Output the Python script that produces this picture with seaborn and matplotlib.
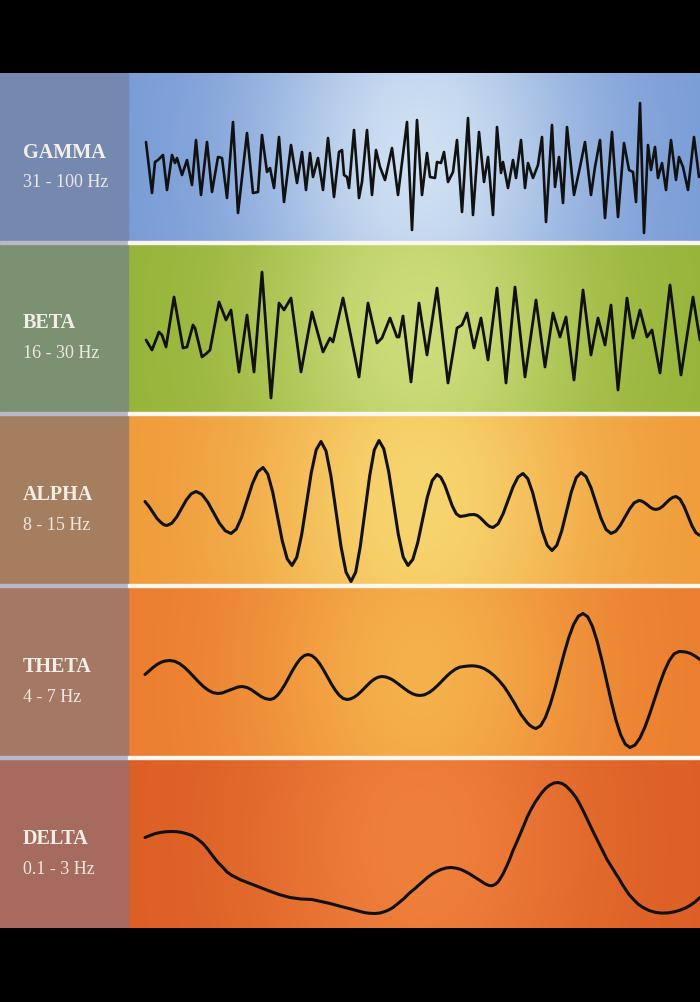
import numpy as np
import pandas as pd
import matplotlib
matplotlib.use("Agg")
import matplotlib.pyplot as plt
from matplotlib.patches import Rectangle
from matplotlib.colors import to_rgb
import seaborn as sns

sns.set_theme(style="white")
plt.rcParams["font.family"] = ["Liberation Serif", "DejaVu Serif"]

# ---------------- data ----------------
band_names = ["GAMMA", "BETA", "ALPHA", "THETA", "DELTA"]
band_ranges = ["31 - 100 Hz", "16 - 30 Hz", "8 - 15 Hz", "4 - 7 Hz", "0.1 - 3 Hz"]

gamma_t = [146, 152, 155, 158, 163, 167, 172, 175, 177, 182,
           187, 192, 196, 201, 207, 212, 218, 222, 227, 233,
           238, 247, 253, 258, 262, 267, 270, 274, 279, 284,
           291, 297, 302, 306, 310, 313, 318, 323, 328, 334,
           339, 342, 344, 347, 349, 354, 359, 362, 367, 372,
           376, 380, 385, 392, 398, 407, 412, 417, 422, 427,
           430, 435, 437, 441, 444, 448, 453, 457, 462, 468,
           473, 479, 484, 488, 493, 497, 501, 503, 508, 513,
           516, 521, 525, 528, 533, 538, 542, 546, 552, 555,
           559, 563, 567, 574, 580, 585, 591, 595, 600, 605,
           612, 618, 624, 629, 633, 636, 640, 644, 648, 651,
           655, 658, 662, 666, 671, 676, 679, 683, 688, 694,
           699]
gamma_v = [15, -36, -5, -3, 2, -33, 2, -6, -1, -18,
           -3, -28, 17, -38, 15, -35, 0, -1, -41, 35,
           -56, 24, -36, -35, 22, -15, -11, -31, 20, -45,
           12, -26, 5, -33, 4, -20, -1, -33, 19, -40,
           5, 7, -18, -20, -31, 27, -41, -25, 27, -38,
           7, -10, -23, 9, -38, 35, -73, 37, -38, 4,
           -20, -21, -5, -6, 5, -25, -15, 17, -55, 39,
           -58, 25, -25, 0, -58, 30, -16, -5, -31, -3,
           -21, 17, -31, -6, -21, -8, 20, -65, 32, -30,
           0, -46, 30, -38, -10, 15, -38, -10, 17, -61,
           25, -60, 14, -13, -15, -45, 54, -76, 12, -13,
           10, -21, -6, -33, 17, -23, 0, -10, -33, 20,
           -20]

beta_t = [146, 152, 159, 162, 166, 174, 183, 187, 193, 195,
          202, 207, 210, 219, 226, 231, 239, 247, 254, 262,
          271, 279, 284, 291, 301, 312, 323, 330, 333, 343,
          351, 359, 368, 377, 382, 390, 397, 399, 403, 411,
          419, 427, 437, 448, 457, 462, 467, 474, 481, 488,
          497, 506, 515, 525, 536, 545, 553, 560, 566, 574,
          583, 591, 598, 605, 611, 618, 627, 633, 640, 647,
          652, 660, 670, 681, 693, 700]
beta_v = [-12, -22, -4, -7, -19, 31, -20, -19, 3, 0,
          -29, -25, -22, 26, 8, 18, -44, 13, -44, 56,
          -70, 25, 18, 30, -44, 16, -24, -10, -14, 30,
          -9, -49, 25, -15, -10, 10, -9, -9, 12, -54,
          25, -27, 40, -55, 0, 3, 15, -20, 10, -32,
          40, -55, 41, -49, 28, -39, 15, -9, 11, -52,
          38, -27, 10, -17, 23, -62, 30, -10, 18, -9,
          -2, -45, 43, -47, 31, -12]

alpha_t = [145, 149, 153, 157, 161, 164, 167,
           171.8, 176.7, 181.5, 186.3, 191.2, 196,
           201.8, 207.7, 213.5, 219.3, 225.2, 231,
           236.3, 241.7, 247, 252.3, 257.7, 263,
           267.8, 272.7, 277.5, 282.3, 287.2, 292,
           296.8, 301.7, 306.5, 311.3, 316.2, 321,
           326, 331, 336, 341, 346, 351,
           355.7, 360.3, 365, 369.7, 374.3, 379,
           383.8, 388.7, 393.5, 398.3, 403.2, 408,
           412.8, 417.7, 422.5, 427.3, 432.2, 437,
           440.8, 444.7, 448.5, 452.3, 456.2, 460,
           465, 469, 474,
           477.2, 480.3, 483.5, 486.7, 489.8, 493,
           498, 503, 508, 513, 518, 523,
           527.8, 532.7, 537.5, 542.3, 547.2, 552,
           556.8, 561.7, 566.5, 571.3, 576.2, 581,
           586, 591, 596, 601, 606, 611,
           615.7, 620.3, 625, 629.7, 634.3, 639,
           641.8, 644.7, 647.5, 650.3, 653.2, 656,
           659.3, 662.7, 666, 669.3, 672.7, 676,
           680, 684, 688, 692, 696, 700]
alpha_v = [-2, -7, -13, -19, -23, -25.3, -26,
           -23.7, -17.5, -9, -0.5, 5.7, 8,
           5.2, -2.5, -13, -23.5, -31.2, -34,
           -29.6, -17.5, -1, 15.5, 27.6, 32,
           25.4, 7.5, -17, -41.5, -59.4, -66,
           -57.7, -35, -4, 27, 49.7, 58,
           48.6, 23, -12, -47, -72.6, -82,
           -72.6, -46.8, -11.5, 23.8, 49.6, 59,
           50.6, 27.8, -3.5, -34.8, -57.6, -66,
           -59.9, -43.3, -20.5, 2.3, 18.9, 25,
           22.2, 14.5, 4, -6.5, -14.2, -17,
           -16.3, -15.3, -15,
           -15.9, -18.3, -21.5, -24.8, -27.1, -28,
           -24.4, -14.5, -1, 12.5, 22.4, 26,
           20.8, 6.8, -12.5, -31.8, -45.8, -51,
           -45.8, -31.5, -12, 7.5, 21.8, 27,
           22.9, 11.8, -3.5, -18.8, -29.9, -34,
           -31.8, -25.8, -17.5, -9.3, -3.2, -1,
           -1.6, -3.3, -5.5, -7.8, -9.4, -10,
           -9.1, -6.8, -3.5, -0.3, 2.1, 3,
           0.4, -6.8, -16.5, -26.3, -33.4, -36]

theta_t = [145, 149, 153, 157, 161, 165, 170,
           174.8, 179.6, 184.4, 189.2, 194, 198.8, 203.6, 208.4, 213.2, 218,
           222, 226, 230, 234, 238, 242,
           247, 251, 256, 261, 265, 270,
           273.8, 277.6, 281.4, 285.2, 289, 292.8, 296.6, 300.4, 304.2, 308,
           311.9, 315.8, 319.7, 323.6, 327.5, 331.4, 335.3, 339.2, 343.1, 347,
           350.5, 354, 357.5, 361, 364.5, 368, 371.5, 375, 378.5, 382,
           385.8, 389.6, 393.4, 397.2, 401, 404.8, 408.6, 412.4, 416.2, 420,
           424.4, 428.8, 433.2, 437.6, 442, 446.4, 450.8, 455.2, 459.6, 464,
           468, 472, 476, 480, 484, 489, 494, 499, 504, 508,
           511, 515, 518, 521, 524, 527, 530, 533, 536,
           540.7, 545.4, 550.1, 554.8, 559.5, 564.2, 568.9, 573.6, 578.3, 583,
           587.7, 592.4, 597.1, 601.8, 606.5, 611.2, 615.9, 620.6, 625.3, 630,
           634.9, 639.8, 644.7, 649.6, 654.5, 659.4, 664.3, 669.2, 674.1, 679,
           683, 687, 691, 695, 700]
theta_v = [-3, 0.5, 4, 7, 9.2, 10.5, 11,
           10.2, 7.9, 4.2, -0.4, -5.5, -10.6, -15.2, -18.8, -21.2, -22,
           -21.5, -20, -18.5, -17, -15.5, -15,
           -16, -18, -21.5, -25, -27, -28,
           -26.9, -23.7, -18.7, -12.5, -5.5, 1.5, 7.7, 12.7, 15.9, 17,
           15.9, 12.7, 7.7, 1.5, -5.5, -12.5, -18.7, -23.7, -26.9, -28,
           -27.4, -25.8, -23.3, -20.1, -16.5, -13, -9.7, -7.2, -5.6, -5,
           -5.5, -6.8, -8.9, -11.6, -14.5, -17.4, -20.1, -22.2, -23.5, -24,
           -23.3, -21.2, -18, -14, -9.5, -5, -1, 2.2, 4.3, 5,
           5.5, 5.7, 5.4, 4.5, 3, 0, -4, -9, -15, -21,
           -26, -32.5, -38, -43, -47, -51, -54, -56, -57,
           -54.2, -46, -33.3, -17.3, 0.5, 18.3, 34.3, 47, 55.2, 58,
           54.7, 45.2, 30.4, 11.7, -9, -29.7, -48.4, -63.2, -72.7, -76,
           -73.6, -66.8, -56.2, -42.8, -28, -13.2, 0.2, 10.8, 17.7, 20,
           19.8, 19.2, 17.8, 15.5, 12]

delta_t = [145, 150, 155, 160, 166, 172, 177, 182, 187, 192,
           197, 203, 208, 214, 218, 223, 227, 232, 241, 250,
           259, 268, 279, 290, 301, 312, 321, 330, 341, 353,
           360, 365, 370, 375, 380, 385, 389, 393, 398, 404,
           409, 415, 420, 424, 428, 433, 437, 441, 446, 451,
           456, 461, 465, 469, 475, 480, 485, 489, 492, 495,
           498, 500, 503, 507, 510, 513, 517, 520, 524, 527,
           531, 535, 538, 542, 546, 550, 554, 558, 562, 566,
           571, 576, 580, 585, 589, 594, 598, 603, 607, 612,
           616, 619, 622, 625, 629, 634, 638, 643, 649, 656,
           662, 668, 674, 679, 685, 690, 695, 700]
delta_v = [6, 8, 9.8, 11, 11.8, 12, 11.8, 11, 9.7, 8,
           4.8, 0, -6, -14, -19, -24, -28.5, -32, -36.5, -40,
           -43.5, -47, -51, -54, -55.5, -56, -58, -60, -63, -66,
           -68, -69.2, -69.8, -70, -69.5, -68, -66.3, -64, -60, -55,
           -50, -45, -40.5, -37, -33.5, -30, -27.8, -26, -24.5, -24,
           -24.6, -26, -27.9, -30, -33.8, -37, -40.3, -42, -42.2, -41,
           -38.5, -35.5, -30.5, -22, -15, -7, 2, 9, 18.5, 26,
           34, 41, 45.5, 51, 55.5, 58.5, 60.5, 61, 60, 57.5,
           52.5, 46, 39, 29, 20.5, 10, 2, -8, -16, -24,
           -30.5, -35, -40.5, -45, -51, -56.5, -60.5, -64, -67, -69,
           -69.6, -69.4, -68.4, -67, -64.7, -62, -58.5, -54]

series = [(gamma_t, gamma_v), (beta_t, beta_v), (alpha_t, alpha_v),
          (theta_t, theta_v), (delta_t, delta_v)]

# ---------------- style ----------------
label_colors = ["#7588AF", "#7B9172", "#A57E5F", "#A57865", "#A66B5E"]
edge_colors = ["#789BD6", "#95B338", "#F09A3A", "#EB7C2F", "#DC5E25"]
center_colors = ["#CFE0F2", "#CCDC7A", "#F7D56E", "#F5B14B", "#EF803C"]
line_widths = [1.9, 2.0, 2.2, 2.2, 2.2]

W, H = 700, 1002
band_tops = [73, 244, 415, 587, 759]
band_h = [168, 168, 169, 169, 169]
label_w = 128

fig = plt.figure(figsize=(W / 100, H / 100), dpi=100, facecolor="black")

for i in range(5):
    top, h = band_tops[i], band_h[i]
    ax = fig.add_axes([0, 1 - (top + h) / H, 1, h / H])
    ax.set_facecolor("black")

    # background glow
    xs = np.linspace(label_w, W, 286)
    ys = np.linspace(-1, 1, 60)
    X, Y = np.meshgrid(xs, ys)
    wgt = np.exp(-((X - 420) / 165) ** 2) * (1 - 0.12 * Y ** 2)
    e = np.array(to_rgb(edge_colors[i]))
    c = np.array(to_rgb(center_colors[i]))
    img = e[None, None, :] + (c - e)[None, None, :] * wgt[:, :, None]
    ax.imshow(img, extent=[label_w, W, -h / 2, h / 2], aspect="auto",
              interpolation="bilinear", zorder=0)

    ax.add_patch(Rectangle((0, -h / 2), label_w, h, color=label_colors[i], zorder=1))

    t, v = series[i]
    assert len(t) == len(v)
    df = pd.DataFrame({"t": t, "v": v})
    sns.lineplot(data=df, x="t", y="v", ax=ax, color="#111111",
                 linewidth=line_widths[i], sort=False, estimator=None, zorder=3)
    ln = ax.lines[-1]
    ln.set_solid_joinstyle("round")
    ln.set_solid_capstyle("round")

    ax.text(23, 4.5, band_names[i], color="#F3EFE8", fontsize=14.5,
            fontweight="bold", ha="left", va="center", zorder=4)
    ax.text(23, -25.5, band_ranges[i], color="#EDE8E2", fontsize=13,
            ha="left", va="center", zorder=4)

    ax.set_xlim(0, W)
    ax.set_ylim(-h / 2, h / 2)
    ax.axis("off")

# separators
for top in band_tops[1:]:
    y0 = 1 - top / H
    fig.patches.append(Rectangle((0, y0), label_w / W, 3 / H, transform=fig.transFigure,
                                 color="#B9B8C6", zorder=5))
    fig.patches.append(Rectangle((label_w / W, y0), 1 - label_w / W, 3 / H,
                                 transform=fig.transFigure, color="#FBF7EE", zorder=5))

fig.savefig("out.png", dpi=100, facecolor="black")
